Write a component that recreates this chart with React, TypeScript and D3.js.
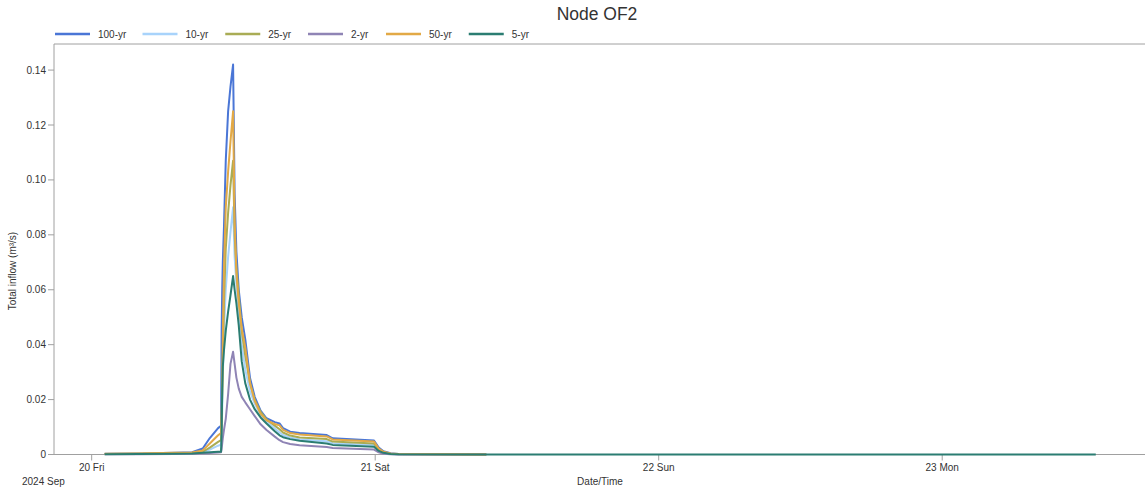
import React from "react";
import * as d3 from "d3";

// ---- data ----
const TITLE = "Node OF2";
const Y_LABEL = "Total inflow (m³/s)";
const X_LABEL = "Date/Time";
const SERIES_NAMES = ["100-yr", "10-yr", "25-yr", "2-yr", "50-yr", "5-yr"];
const SERIES_COLORS = ["#4a76d6", "#a8d3fb", "#a9ac55", "#8f84b5", "#e2a946", "#2b7d72"];
const Y_TICKS = [0, 0.02, 0.04, 0.06, 0.08, 0.1, 0.12, 0.14];
const DAY_TICKS = ["2024-09-20", "2024-09-21", "2024-09-22", "2024-09-23"];
const DAY_LABELS = ["20 Fri", "21 Sat", "22 Sun", "23 Mon"];
const YEAR_MONTH = "2024 Sep";
const BASE_DATE = "2024-09-20T00:00:00";
const X_DOMAIN = ["2024-09-19T20:48:36", "2024-09-23T17:10:00"];
const Y_MAX = 0.1495;

// hours since 20 Sep 00:00
const TIME_H = [1.1, 4.0, 7.0, 8.5, 9.4, 10.0, 10.7, 10.95, 11.0, 11.05, 11.1, 11.2, 11.35, 11.55, 11.75, 11.97,
  12.1, 12.25, 12.45, 12.7, 13.0, 13.4, 13.8, 14.3, 14.8, 15.5, 15.9, 16.2, 16.8, 17.6, 19.9, 20.4, 23.9, 24.3, 24.7, 25.3, 26.0, 33.4, 85.0];

const Q100 = [0.0003, 0.0004, 0.0006, 0.0008, 0.0022, 0.006, 0.0096, 0.0105,
  0.045, 0.060, 0.070, 0.083, 0.107, 0.125, 0.134, 0.142,
  0.095, 0.074, 0.060, 0.050, 0.042, 0.028, 0.021, 0.016, 0.0132, 0.0118, 0.0113, 0.0096, 0.0083, 0.0078, 0.0071, 0.0059, 0.0051, 0.0025, 0.0012, 0.0005, 0.0002, 0, null];
const Q10 = [0.0002, 0.0003, 0.0004, 0.0005, 0.0008, 0.0018, 0.0032, 0.0036,
  0.008, 0.016, 0.028, 0.045, 0.060, 0.072, 0.081, 0.090,
  0.072, 0.062, 0.052, 0.040, 0.031, 0.023, 0.0185, 0.0145, 0.0120, 0.0095, 0.0080, 0.0071, 0.0062, 0.0055, 0.0048, 0.0041, 0.0035, 0.0016, 0.0007, 0.0002, 0.0001, 0, null];
const Q25 = [0.0002, 0.0003, 0.0005, 0.0006, 0.0010, 0.0025, 0.0046, 0.0052,
  0.012, 0.022, 0.035, 0.055, 0.075, 0.088, 0.098, 0.107,
  0.080, 0.068, 0.058, 0.045, 0.036, 0.026, 0.020, 0.0155, 0.0128, 0.0105, 0.0092, 0.0080, 0.0069, 0.0062, 0.0056, 0.0047, 0.0040, 0.0019, 0.0008, 0.0003, 0.0001, 0, null];
const Q2 = [0.0001, 0.0001, 0.0002, 0.0003, 0.0004, 0.0005, 0.0007, 0.0008,
  0.002, 0.004, 0.006, 0.009, 0.013, 0.022, 0.033, 0.0374,
  0.033, 0.028, 0.024, 0.021, 0.019, 0.0165, 0.014, 0.011, 0.0089, 0.0065, 0.0052, 0.0045, 0.0038, 0.0034, 0.0027, 0.0024, 0.0018, 0.0008, 0.0003, 0.0001, 0, 0, null];
const Q50 = [0.0003, 0.0004, 0.0006, 0.0007, 0.0015, 0.004, 0.007, 0.0078,
  0.015, 0.025, 0.042, 0.068, 0.090, 0.103, 0.114, 0.125,
  0.085, 0.066, 0.055, 0.046, 0.039, 0.026, 0.0195, 0.0148, 0.0124, 0.0111, 0.0106, 0.0090, 0.0078, 0.0073, 0.0066, 0.0055, 0.0047, 0.0022, 0.0010, 0.0004, 0.0002, 0, null];
const Q5 = [0.0001, 0.0002, 0.0003, 0.0004, 0.0006, 0.0008, 0.0010, 0.0010,
  0.008, 0.024, 0.032, 0.038, 0.045, 0.052, 0.058, 0.065,
  0.060, 0.055, 0.047, 0.034, 0.026, 0.020, 0.0165, 0.0135, 0.0113, 0.0085, 0.0070, 0.0063, 0.0056, 0.0050, 0.0040, 0.0035, 0.0028, 0.0013, 0.0006, 0.0002, 0.0001, 0, 0];

const SERIES_VALUES = [Q100, Q10, Q25, Q2, Q50, Q5];

const W = 1145;
const H = 489;
const M = { left: 54, right: 1145, top: 44, bottom: 454.5 };
const FONT = "'Liberation Sans', Arial, Helvetica, sans-serif";
const TXT = "#333";
const AXIS = "#a0a0a0";

export default function App() {
  const base = new Date(BASE_DATE).getTime();
  const times = TIME_H.map((h) => new Date(base + h * 3600000));
  const x = d3.scaleTime().domain(X_DOMAIN.map((s) => new Date(s))).range([M.left, M.right]);
  const y = d3.scaleLinear().domain([0, Y_MAX]).range([M.bottom, M.top]);

  const line = d3
    .line<{ t: Date; v: number | null }>()
    .defined((d) => d.v !== null)
    .x((d) => x(d.t))
    .y((d) => y(d.v as number));

  const yFmt = (v: number) => (v === 0 ? "0" : d3.format(".2f")(v));

  // legend layout
  const legendY = 34;
  let lx = 55;
  const legendItems = SERIES_NAMES.map((name, i) => {
    const item = { name, color: SERIES_COLORS[i], x: lx };
    lx += 35 + 8 + name.length * 4.75 + 16;
    return item;
  });

  return (
    <svg
      width={W}
      height={H}
      style={{ position: "absolute", left: 0, top: 0, background: "#fff" }}
      fontFamily={FONT}
    >
      <rect x={0} y={0} width={W} height={H} fill="#fff" />
      <text x={597} y={20} textAnchor="middle" fontSize={17.5} fill={TXT}>
        {TITLE}
      </text>

      {/* legend */}
      {legendItems.map((it) => (
        <g key={it.name}>
          <line x1={it.x} x2={it.x + 35} y1={legendY} y2={legendY} stroke={it.color} strokeWidth={2.5} />
          <text x={it.x + 43} y={legendY + 3.5} fontSize={10} fill={TXT}>
            {it.name}
          </text>
        </g>
      ))}

      {/* frame */}
      <line x1={M.left} x2={M.right} y1={M.top} y2={M.top} stroke={AXIS} strokeWidth={1} />
      <line x1={M.left} x2={M.left} y1={M.top} y2={M.bottom} stroke={AXIS} strokeWidth={1} />
      <line x1={M.left} x2={M.right} y1={M.bottom} y2={M.bottom} stroke={AXIS} strokeWidth={1} />

      {/* y ticks */}
      {Y_TICKS.map((t) => (
        <g key={t}>
          <line x1={M.left - 6} x2={M.left} y1={y(t)} y2={y(t)} stroke={AXIS} />
          <text x={M.left - 8} y={y(t) + 3.5} textAnchor="end" fontSize={10} fill={TXT}>
            {yFmt(t)}
          </text>
        </g>
      ))}
      <text
        transform={`translate(16,271) rotate(-90)`}
        textAnchor="middle"
        fontSize={10}
        fill={TXT}
      >
        {Y_LABEL}
      </text>

      {/* x ticks */}
      {DAY_TICKS.map((d, i) => {
        const px = x(new Date(d + "T00:00:00"));
        return (
          <g key={d}>
            <line x1={px} x2={px} y1={M.bottom} y2={M.bottom + 6} stroke={AXIS} />
            <text x={px} y={471} textAnchor="middle" fontSize={10} fill={TXT}>
              {DAY_LABELS[i]}
            </text>
          </g>
        );
      })}
      <text x={22} y={485} fontSize={10} fill={TXT}>
        {YEAR_MONTH}
      </text>
      <text x={600} y={485} textAnchor="middle" fontSize={10} fill={TXT}>
        {X_LABEL}
      </text>

      {/* series */}
      {SERIES_VALUES.map((vals, i) => {
        const pts = times.map((t, k) => ({ t, v: vals[k] }));
        return (
          <path
            key={SERIES_NAMES[i]}
            d={line(pts) || ""}
            fill="none"
            stroke={SERIES_COLORS[i]}
            strokeWidth={2}
            strokeLinejoin="round"
          />
        );
      })}
    </svg>
  );
}
